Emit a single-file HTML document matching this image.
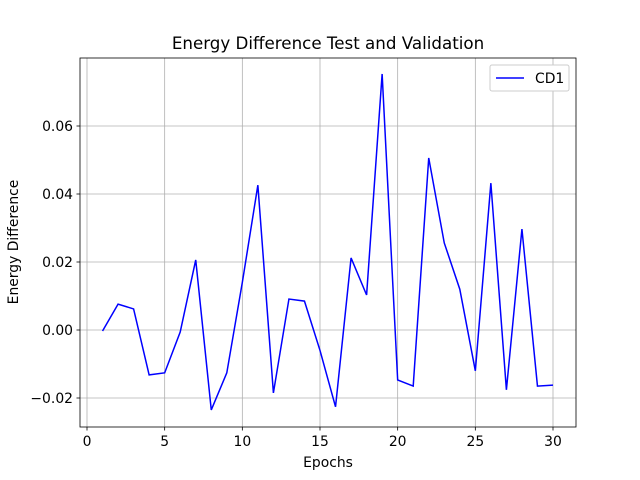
<!DOCTYPE html>
<html><head><meta charset="utf-8"><style>
body{margin:0;background:#fff;}
svg{display:block;font-family:"DejaVu Sans","Liberation Sans",sans-serif;}
</style></head><body>
<svg id="chart" width="640" height="480" viewBox="0 0 640 480">
<rect width="640" height="480" fill="#fff"/>
<g id="grid"></g>
<g id="axes"></g>
<polyline id="line" fill="none" stroke="#0000ff" stroke-width="1.5"/>
<rect x="80" y="58" width="496" height="369" fill="none" stroke="#000" stroke-width="0.8"/>
<text x="328" y="49" font-size="16.7" text-anchor="middle">Energy Difference Test and Validation</text>
<text x="328" y="467" font-size="13.9" text-anchor="middle">Epochs</text>
<text transform="translate(18,242) rotate(-90)" font-size="13.9" text-anchor="middle">Energy Difference</text>
<g>
<rect x="490" y="65" width="79" height="26" fill="#fff" stroke="#ccc" rx="2"/>
<line x1="496" y1="78" x2="524" y2="78" stroke="#0000ff" stroke-width="1.5"/>
<text x="535" y="83" font-size="13.9">CD1</text>
</g>
</svg>
<script>
const epochs=[1,2,3,4,5,6,7,8,9,10,11,12,13,14,15,16,17,18,19,20,21,22,23,24,25,26,27,28,29,30];
const cd1=[-0.0003,0.0076,0.0062,-0.0132,-0.0126,-0.0006,0.0206,-0.0235,-0.0126,0.014,0.0426,-0.0185,0.0091,0.0085,-0.006,-0.0226,0.0212,0.0103,0.0753,-0.0147,-0.0165,0.0506,0.0256,0.012,-0.012,0.0432,-0.0176,0.0297,-0.0165,-0.0162];
const xTicks=[0,5,10,15,20,25,30];
const yTicks=[-0.02,0,0.02,0.04,0.06];
const yTickLabels=["\u22120.02","0.00","0.02","0.04","0.06"];
const X=v=>87+v*(553-87)/30;
const Y=v=>330-v*3400;
const ns="http://www.w3.org/2000/svg";
const grid=document.getElementById('grid'),axes=document.getElementById('axes');
function mk(tag,attrs,parent){const e=document.createElementNS(ns,tag);for(const k in attrs)e.setAttribute(k,attrs[k]);parent.appendChild(e);return e;}
xTicks.forEach(t=>{
 const g=mk('line',{x1:X(t),x2:X(t),y1:58,y2:427,stroke:'#b0b0b0','stroke-width':0.8},grid);
 
 
 const tk=mk('line',{x1:X(t),x2:X(t),y1:427,y2:430.5,stroke:'#000','stroke-width':0.8},axes);
 
 
 const tx=mk('text',{x:X(t),y:446,'font-size':13.9,'text-anchor':'middle'},axes);
 tx.textContent=t;
 
 
});
yTicks.forEach((t,i)=>{
 const g=mk('line',{x1:80,x2:576,y1:Y(t),y2:Y(t),stroke:'#b0b0b0','stroke-width':0.8},grid);
 
 
 const tk=mk('line',{x1:76.5,x2:80,y1:Y(t),y2:Y(t),stroke:'#000','stroke-width':0.8},axes);
 
 
 const tx=mk('text',{x:73,y:Y(t)+5,'font-size':13.9,'text-anchor':'end'},axes);
 tx.textContent=yTickLabels[i];
 
 
});
document.getElementById('line').setAttribute('points',epochs.map((e,i)=>X(e)+','+Y(cd1[i])).join(' '));
</script>
</body></html>
